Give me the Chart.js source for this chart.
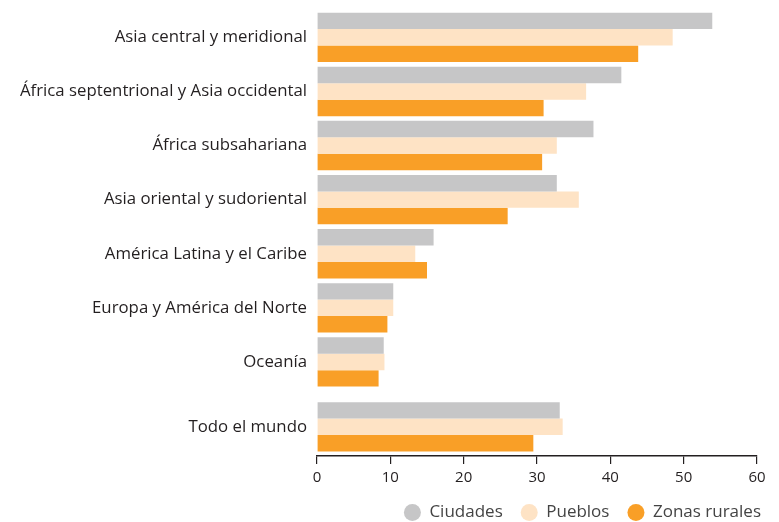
<!DOCTYPE html>
<html lang="es">
<head>
<meta charset="utf-8">
<script src="https://cdn.jsdelivr.net/npm/chart.js@4/dist/chart.umd.min.js"></script>
<style>
  html, body { margin: 0; padding: 0; background: #fff; }
  #wrap { width: 779px; height: 522px; }
</style>
</head>
<body>
<div id="wrap"><canvas id="chart-regiones"></canvas></div>
<script>
const regiones = [
  'Asia central y meridional',
  'África septentrional y Asia occidental',
  'África subsahariana',
  'Asia oriental y sudoriental',
  'América Latina y el Caribe',
  'Europa y América del Norte',
  'Oceanía',
  'Todo el mundo'
];
const ciudades = [53.9, 41.5, 37.7, 32.7, 15.9, 10.4, 9.1, 33.1];
const pueblos = [48.5, 36.7, 32.7, 35.7, 13.4, 10.4, 9.2, 33.5];
const zonasRurales = [43.8, 30.9, 30.7, 26.0, 15.0, 9.6, 8.4, 29.5];
const xTicks = [0, 10, 20, 30, 40, 50, 60];

// row slots on the y axis; the world total sits a bit apart from the regions
const rowPos = regiones.map((_, i) => i + (i === regiones.length - 1 ? 0.2 : 0));

const ink = '#231f20';
const family = '"Open Sans", Lato, sans-serif';

const toPoints = vals => vals.map((v, i) => ({ x: v, y: rowPos[i] }));

new Chart(document.getElementById('chart-regiones'), {
  type: 'bar',
  data: {
    datasets: [
      { label: 'Ciudades', data: toPoints(ciudades), backgroundColor: '#c6c6c7' },
      { label: 'Pueblos', data: toPoints(pueblos), backgroundColor: '#fee3c5' },
      { label: 'Zonas rurales', data: toPoints(zonasRurales), backgroundColor: '#f99f27' }
    ]
  },
  options: {
    indexAxis: 'y',
    responsive: true,
    maintainAspectRatio: false,
    animation: false,
    layout: { padding: { top: 0, left: 0, right: 0, bottom: -9 } },
    datasets: {
      // top bar runs a few px above the plot area, so no clipping
      bar: { categoryPercentage: 0.913, barPercentage: 1.0, borderWidth: 0, clip: false }
    },
    scales: {
      x: {
        type: 'linear',
        min: 0,
        max: 60,
        afterBuildTicks: s => { s.ticks = xTicks.map(v => ({ value: v })); },
        afterFit: s => { s.height = 30; },
        grid: { display: true, drawOnChartArea: false, drawTicks: true, tickLength: 8, color: ink, lineWidth: 1.2 },
        border: { display: true, color: ink, width: 1.5 },
        ticks: { color: ink, font: { family, size: 15 }, padding: 5 }
      },
      y: {
        type: 'linear',
        offset: false,
        reverse: true,
        min: -0.319,
        max: 7.739,
        afterBuildTicks: s => { s.ticks = rowPos.map(v => ({ value: v })); },
        afterFit: s => { s.width = 317; },
        grid: { display: false, drawTicks: false, tickLength: 0 },
        border: { display: false },
        ticks: {
          color: ink,
          font: { family, size: 16.8 },
          padding: 10,
          callback: (v, i) => regiones[i]
        }
      },
      // empty strip that keeps the plot off the right edge
      yRight: {
        type: 'linear',
        position: 'right',
        afterFit: s => { s.width = 22; },
        grid: { display: false },
        border: { display: false },
        ticks: { display: false }
      }
    },
    plugins: {
      tooltip: { enabled: false },
      legend: {
        position: 'bottom',
        align: 'end',
        labels: {
          usePointStyle: true,
          pointStyle: 'circle',
          pointStyleWidth: 17,
          boxHeight: 12,
          padding: 18,
          color: '#444',
          font: { family, size: 17 }
        }
      }
    }
  }
});
</script>
</body>
</html>
